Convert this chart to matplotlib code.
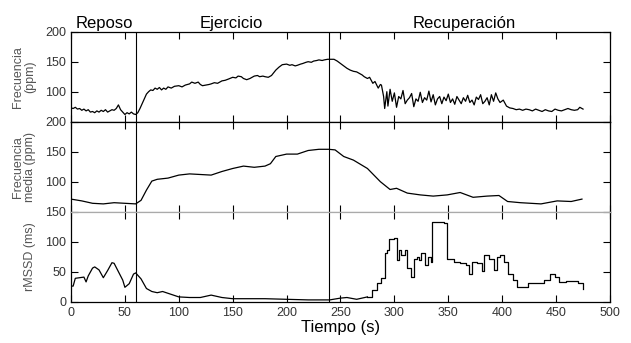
import matplotlib
matplotlib.use("Agg")
import matplotlib.pyplot as plt

plt.rcParams['font.family'] = ['Liberation Sans', 'DejaVu Sans']

# ---- Panel 1: instantaneous heart rate (ppm)
t_hr = [0, 2, 4, 6, 8, 10, 12, 14, 16, 18, 20, 22, 24, 26, 28, 30, 32, 34, 36, 38,
        40, 42, 44, 46, 48, 50, 52, 54, 56, 58, 60, 62, 64, 66, 68, 70, 72, 74, 76, 78,
        80, 82, 84, 86, 88, 90, 93, 96, 100, 103, 106, 110, 112, 115, 118, 120, 122, 125, 128, 130,
        133, 136, 140, 143, 146, 150, 153, 155, 158, 160, 163, 166, 170, 173, 175, 178, 180, 183,
        186, 190, 193, 196, 200, 203, 205, 208, 210, 213, 215, 218, 220, 223, 225, 228, 230,
        233, 235, 238, 240, 244, 247, 250, 253, 256, 259, 262, 265,
        268, 270, 272, 275, 277, 280, 282, 285, 287, 288,
        290, 291, 293, 294, 296, 298, 300, 302, 304, 306, 308, 310, 312, 314, 316, 318,
        320, 322, 324, 326, 328, 330, 332, 334, 336, 338, 340, 342, 344, 346, 348, 350,
        352, 354, 356, 358, 360, 362, 364, 366, 368, 370, 372, 374, 376, 378, 380, 382,
        384, 386, 388, 390, 392, 394, 396, 398, 401, 404,
        407, 410, 413, 416, 419, 422, 425, 428, 431, 434, 437, 440, 443, 446, 449, 452,
        455, 458, 461, 464, 467, 470, 472, 475]
hr = [73, 72, 74, 71, 72, 69, 71, 68, 70, 66, 67, 65, 68, 66, 69, 67, 70, 66, 68, 70,
      69, 72, 78, 70, 66, 62, 65, 63, 66, 63, 62, 65, 72, 80, 88, 96, 100, 103, 102, 106,
      104, 107, 103, 106, 104, 108, 106, 109, 110, 108, 111, 113, 116, 114, 116, 112, 110, 111, 112, 113,
      115, 114, 118, 119, 121, 124, 123, 126, 125, 122, 120, 122, 126, 127, 125, 126, 125, 124,
      127, 136, 141, 145, 146, 144, 145, 143, 144, 146, 147, 149, 150, 149, 151, 152, 153,
      152, 153, 154, 154, 154, 151, 147, 143, 139, 136, 134, 133,
      130, 128, 125, 122, 124, 114, 117, 106, 112, 111,
      92, 72, 100, 76, 104, 84, 98, 74, 92, 88, 102, 80, 86, 90, 97, 75,
      88, 84, 99, 82, 90, 86, 101, 83, 95, 78, 88, 92, 80, 91, 85, 96,
      82, 88, 79, 92, 86, 80, 90, 84, 94, 82, 86, 78, 91, 87, 95, 80,
      84, 90, 78, 95, 84, 98, 88, 82, 86, 76,
      73, 72, 70, 71, 69, 71, 70, 68, 71, 69, 67, 70, 68, 67, 71, 69,
      68, 70, 72, 70, 69, 70, 74, 71]

# ---- Panel 2: mean heart rate (ppm)
t_mhr = [0, 10, 20, 30, 40, 50, 60, 65, 70, 75, 80, 90, 100, 110, 120, 130, 140, 150,
         160, 170, 180, 185, 190, 200, 210, 220, 230, 239, 245, 253, 262, 275, 287, 296,
         302, 312, 324, 336, 349, 361, 373, 386, 397, 405, 417, 436, 451, 464, 474]
mhr = [71, 68, 64, 63, 65, 64, 63, 69, 86, 101, 104, 106, 111, 113, 112, 111, 117, 122,
       126, 124, 126, 130, 142, 146, 146, 152, 154, 154, 153, 142, 136, 122, 100, 87,
       89, 81, 78, 76, 78, 82, 74, 76, 77, 67, 65, 63, 68, 67, 71]

# ---- Panel 3: rMSSD (ms)
t_rm = [0, 2, 4, 8, 12, 14, 16, 20, 22, 26, 30, 34, 38, 40, 44, 48, 50, 54, 58, 60,
        62, 65, 70, 75, 80, 85, 90, 95, 100, 110, 120, 130, 140, 150, 160, 180, 200,
        220, 240, 250, 256, 265, 275, 279, 284, 288, 291, 293, 295, 300, 302, 304, 306,
        310, 312, 315, 318, 321, 323, 325, 328, 331, 334, 335, 346, 349, 355, 361, 366,
        369, 372, 377, 381, 383, 388, 392, 395, 398, 402, 405, 410, 414, 424, 433, 439,
        444, 449, 453, 459, 467, 470, 475]
rm = [26, 26, 39, 40, 41, 33, 43, 56, 58, 53, 40, 52, 65, 64, 50, 36, 24, 30, 46, 48,
      44, 38, 22, 17, 15, 17, 14, 11, 8, 7, 7, 11, 7, 5, 5, 5, 4,
      3, 3, 6, 7, 4, 8, 20, 31, 39, 81, 86, 104, 106, 70, 86, 78,
      86, 56, 42, 72, 75, 70, 82, 61, 75, 67, 133, 131, 72, 67, 64, 61,
      47, 66, 64, 51, 78, 72, 53, 75, 78, 67, 47, 36, 25, 31, 32, 36,
      47, 42, 33, 35, 35, 31, 22]
rm_step_start = 275  # recovery part drawn as steps

# ---- Annotation values
phase_names = ["Reposo", "Ejercicio", "Recuperación"]
phase_centers = [31, 149, 365]
phase_bounds = [60, 239]
x_ticks = [0, 50, 100, 150, 200, 250, 300, 350, 400, 450, 500]

fig = plt.figure(figsize=(6.31, 3.43), dpi=100)
left, right = 0.1125, 0.9667
top, bottom = 0.9076, 0.1204
h = (top - bottom) / 3.0
axes = [fig.add_axes([left, bottom + (2 - i) * h, right - left, h]) for i in range(3)]

lw = 0.9
axes[0].plot(t_hr, hr, color='black', lw=lw)
axes[1].plot(t_mhr, mhr, color='black', lw=lw)
k = t_rm.index(rm_step_start)
axes[2].plot(t_rm[:k + 1], rm[:k + 1], color='black', lw=lw)
axes[2].plot(t_rm[k:], rm[k:], color='black', lw=lw, drawstyle='steps-post')

ylims = [(50, 200), (50, 200), (0, 150)]
yticks = [[100, 150, 200], [100, 150, 200], [0, 50, 100, 150]]
ylabels = ["Frecuencia\n(ppm)", "Frecuencia\nmedia (ppm)", "rMSSD (ms)"]

for i, ax in enumerate(axes):
    ax.set_xlim(0, 500)
    ax.set_ylim(*ylims[i])
    ax.set_xticks(x_ticks)
    ax.set_yticks(yticks[i])
    ax.tick_params(direction='in', length=5, width=0.8, top=True, right=True,
                   labelsize=9, colors='black', labelcolor='#333333')
    for s in ax.spines.values():
        s.set_linewidth(0.9)
    for b in phase_bounds:
        ax.axvline(b, color='black', lw=0.8)
    ax.set_ylabel(ylabels[i], fontsize=9, color='#555555', linespacing=1.0)
    ax.yaxis.set_label_coords(-0.065, 0.5)
    if i < 2:
        ax.tick_params(labelbottom=False)

axes[1].spines['bottom'].set_color('#aaaaaa')
axes[2].spines['top'].set_color('#aaaaaa')
axes[2].set_xlabel("Tiempo (s)", fontsize=12)
axes[2].xaxis.set_label_coords(0.5, -0.2)

for name, c in zip(phase_names, phase_centers):
    axes[0].text(c, 1.01, name, transform=axes[0].get_xaxis_transform(),
                 ha='center', va='bottom', fontsize=12)

fig.savefig("out.png", dpi=100)
